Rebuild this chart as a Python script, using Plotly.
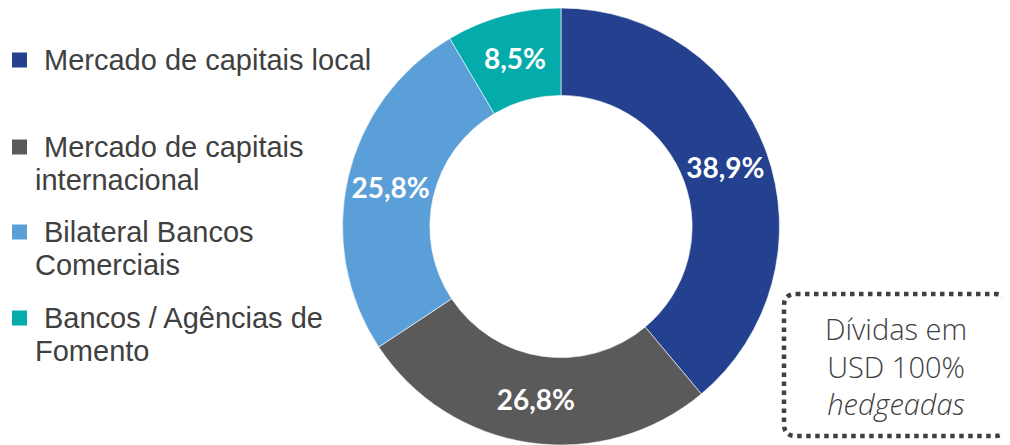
"""
Composição da dívida - gráfico de rosca
"""

import plotly.graph_objects as go

# dados
categorias = [
    "Mercado de capitais local",
    "Mercado de capitais internacional",
    "Bilateral Bancos Comerciais",
    "Bancos / Agências de Fomento",
]
valores = [38.9, 26.8, 25.8, 8.5]
rotulos = ["38,9%", "26,8%", "25,8%", "8,5%"]
cores = ["#23418F", "#5A5A5A", "#5B9FD8", "#03ABAB"]

# quebras de linha da legenda (como no slide)
legenda_linhas = [
    ["Mercado de capitais local"],
    ["Mercado de capitais", "internacional"],
    ["Bilateral Bancos", "Comerciais"],
    ["Bancos / Agências de", "Fomento"],
]

# a página tem margem de 8px no body -> figura um pouco menor
OFF = 8
W, H = 1010 - OFF, 445 - OFF


def px(x):
    # x em pixels da página -> coordenada paper
    return (x - OFF) / W


def py(y):
    # y em pixels da página -> coordenada paper
    return (H - (y - OFF)) / H


fig = go.Figure()

fig.add_trace(go.Pie(
    labels=categorias,
    values=valores,
    text=rotulos,
    textinfo="text",
    textposition="inside",
    insidetextorientation="horizontal",
    textfont=dict(family="Lato", size=28, color="white", weight="bold"),
    marker=dict(colors=cores, line=dict(color="white", width=0.6)),
    hole=0.6,
    sort=False,
    direction="clockwise",
    rotation=0,
    domain=dict(x=[px(561 - 230), px(561 + 230)], y=[0, 1]),
    showlegend=False,
    hoverinfo="label+text",
))

# legenda manual (quadrado + texto)
y_inicio = [60, 147, 232, 318]
for cor, linhas, y0 in zip(cores, legenda_linhas, y_inicio):
    fig.add_shape(
        type="rect", xref="paper", yref="paper",
        x0=px(12), x1=px(27), y0=py(y0 - 7.5), y1=py(y0 + 7.5),
        fillcolor=cor, line=dict(width=0),
    )
    for i, linha in enumerate(linhas):
        fig.add_annotation(
            x=px(42 if i == 0 else 33), y=py(y0 + 33 * i),
            xref="paper", yref="paper",
            text=linha, showarrow=False,
            xanchor="left", yanchor="middle",
            font=dict(family="Liberation Sans, Arial", size=29, color="#404040"),
        )

# caixa pontilhada com cantos arredondados
x0, x1, y0, y1, r = 784, 1007, 294, 436, 12
caminho = (
    f"M {px(x0 + r)},{py(y0)} L {px(x1 - r)},{py(y0)} "
    f"Q {px(x1)},{py(y0)} {px(x1)},{py(y0 + r)} "
    f"L {px(x1)},{py(y1 - r)} Q {px(x1)},{py(y1)} {px(x1 - r)},{py(y1)} "
    f"L {px(x0 + r)},{py(y1)} Q {px(x0)},{py(y1)} {px(x0)},{py(y1 - r)} "
    f"L {px(x0)},{py(y0 + r)} Q {px(x0)},{py(y0)} {px(x0 + r)},{py(y0)} Z"
)
fig.add_shape(
    type="path", path=caminho, xref="paper", yref="paper",
    line=dict(color="#404040", width=4.5, dash="dot"),
)
fig.add_annotation(
    x=px(895.5), y=py(366), xref="paper", yref="paper",
    text="Dívidas em<br>USD 100%<br><i>hedgeadas</i>",
    showarrow=False, align="center",
    xanchor="center", yanchor="middle",
    font=dict(family="Open Sans", size=29, color="#404040", weight=300),
)

fig.update_layout(
    width=W,
    height=H,
    margin=dict(l=0, r=0, t=0, b=0),
    paper_bgcolor="white",
    plot_bgcolor="white",
    uniformtext_minsize=28,
    uniformtext_mode="show",
)

fig.write_html("out.html")
